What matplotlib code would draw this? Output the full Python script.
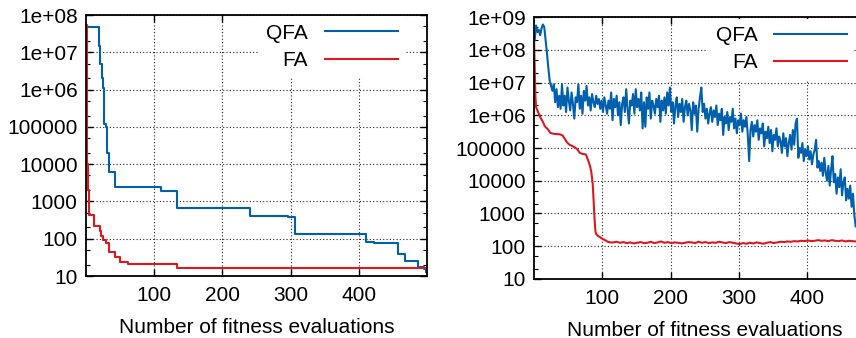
import numpy as np
import matplotlib
matplotlib.use("Agg")
import matplotlib.pyplot as plt
from matplotlib.ticker import FixedLocator, LogLocator, NullFormatter

plt.rcParams['font.family'] = ['Liberation Sans', 'DejaVu Sans']

# ---- left panel: best-so-far curves (step changes) ----
qfa_left_x = [0, 19, 21, 23, 25, 27, 29, 31, 33, 42, 110, 134, 240, 296, 306,
              411, 422, 457, 468, 487, 495, 499]
qfa_left_y = [4.7e7, 1.5e7, 5e6, 2e6, 1.1e6, 1.2e5, 1e5, 2e4, 6e3, 2.4e3, 1.9e3,
              660, 400, 380, 135, 80, 75, 40, 26, 17, 15, 13]

fa_left_x = [0, 1, 2, 3, 5, 11, 20, 22, 25, 29, 33, 42, 50, 62, 134, 499]
fa_left_y = [5.4e7, 2e5, 1e4, 2e3, 440, 215, 160, 115, 93, 76, 44, 32, 24, 21, 16, 16]

# ---- right panel: current fitness per evaluation (log10 values) ----
qfa_right_x = np.arange(1, 472, 2)
qfa_right_log = [
    8.30, 8.75, 8.55, 8.62, 8.45, 8.66, 8.78, 8.70, 8.30, 7.90,
    7.45, 7.05, 6.90, 6.75, 6.95, 6.40, 6.80, 6.25, 6.60, 6.20,
    6.95, 6.30, 6.60, 6.10, 6.85, 6.45, 6.15, 6.70, 6.35, 5.90,
    6.55, 6.40, 6.95, 6.20, 6.60, 6.05, 6.75, 6.45, 6.90, 6.30,
    6.55, 6.15, 6.65, 6.40, 6.25, 6.60, 6.35, 6.50, 6.20, 6.45,
    6.10, 6.55, 6.30, 6.05, 6.45, 6.20, 6.70, 5.85, 6.50, 6.25,
    6.60, 6.00, 6.40, 5.70, 6.35, 6.55, 6.10, 6.80, 6.20, 5.75,
    6.45, 6.30, 6.65, 6.05, 6.80, 6.25, 6.50, 6.15, 6.70, 5.60,
    6.40, 5.65, 6.55, 6.20, 6.70, 5.90, 6.45, 6.30, 6.05, 6.50,
    6.25, 6.60, 5.80, 6.45, 6.15, 6.55, 6.05, 6.70, 6.30, 6.85,
    6.10, 6.40, 5.75, 6.30, 6.55, 5.95, 6.35, 6.10, 6.50, 5.80,
    6.25, 6.45, 6.00, 6.35, 6.15, 5.55, 6.40, 6.05, 6.30, 5.50,
    6.20, 6.55, 6.85, 6.10, 6.35, 5.90, 6.20, 5.75, 6.05, 6.25,
    5.80, 6.15, 5.95, 6.30, 5.70, 6.05, 5.85, 6.20, 5.40, 5.95,
    5.75, 6.10, 5.55, 5.95, 5.80, 6.20, 5.60, 5.90, 5.45, 5.85,
    5.70, 6.05, 5.50, 5.85, 5.65, 5.95, 5.40, 4.60, 5.55, 5.80,
    5.35, 5.70, 5.50, 5.85, 5.25, 5.60, 5.45, 5.75, 5.05, 5.50,
    5.30, 5.65, 5.15, 5.55, 4.90, 5.40, 5.25, 5.60, 5.05, 5.35,
    5.20, 4.85, 5.45, 5.05, 5.30, 4.75, 5.15, 5.40, 4.95, 5.55,
    5.10, 5.75, 5.90, 4.70, 5.00, 4.85, 5.15, 4.60, 4.95, 4.75,
    5.05, 4.65, 4.90, 4.50, 4.80, 4.95, 5.25, 4.40, 4.60, 4.30,
    4.55, 4.15, 4.70, 4.25, 4.00, 4.45, 3.85, 4.35, 4.75, 3.95,
    4.20, 3.60, 4.10, 3.80, 4.35, 3.55, 3.95, 4.10, 3.40, 3.75,
    3.45, 3.85, 3.20, 3.60, 2.95, 2.60,
]

fa_right_x = [0, 1, 2, 3, 6, 9, 13, 16, 20, 24, 30, 38, 42, 45, 48, 52, 58, 63,
              67, 71, 76, 79, 82, 84, 86, 87, 88, 89, 90, 91, 93, 96, 100, 104,
              108, 112] + list(range(116, 472, 5))
fa_right_log = [
    8.40, 7.50, 6.60, 6.25, 6.10, 5.95, 5.80, 5.66, 5.58, 5.46, 5.43, 5.42,
    5.38, 5.28, 5.18, 5.10, 5.04, 4.97, 4.85, 4.82, 4.80, 4.64, 4.45, 4.25,
    3.90, 3.50, 3.10, 2.70, 2.45, 2.37, 2.32, 2.28, 2.22, 2.18, 2.13, 2.11,
    2.11, 2.13, 2.10, 2.12, 2.09, 2.11, 2.08, 2.10, 2.12, 2.09,
    2.10, 2.13, 2.09, 2.11, 2.14, 2.10, 2.12, 2.09, 2.11, 2.10,
    2.08, 2.10, 2.12, 2.11, 2.09, 2.13, 2.10, 2.12, 2.09, 2.11,
    2.10, 2.13, 2.11, 2.09, 2.12, 2.10, 2.08, 2.06, 2.09, 2.07,
    2.10, 2.08, 2.11, 2.09, 2.07, 2.10, 2.12, 2.09, 2.11, 2.13,
    2.12, 2.14, 2.13, 2.15, 2.14, 2.16, 2.15, 2.17, 2.15, 2.16,
    2.18, 2.16, 2.17, 2.15, 2.18, 2.16, 2.15, 2.17, 2.14, 2.16,
    2.15, 2.14,
]

x_ticks = [100, 200, 300, 400]
left_yticks = [10, 100, 1000, 10000, 100000, 1e6, 1e7, 1e8]
left_ylabels = ["10", "100", "1000", "10000", "100000", "1e+06", "1e+07", "1e+08"]
right_yticks = left_yticks + [1e9]
right_ylabels = left_ylabels + ["1e+09"]
xlabel = "Number of fitness evaluations"

blue = "#0060ad"
red = "#dd181f"
fs = 15

fig = plt.figure(figsize=(8.56, 3.38), dpi=100)
ax1 = fig.add_axes([86 / 856, 62 / 338, 341 / 856, 261 / 338])
ax2 = fig.add_axes([534 / 856, 59.3 / 338, 341.5 / 856, 261.4 / 338])


def style(ax, yticks, ylabels, ylim):
    ax.set_yscale("log")
    ax.set_xlim(0, 500)
    ax.set_ylim(*ylim)
    ax.xaxis.set_major_locator(FixedLocator(x_ticks))
    ax.set_yticks(yticks)
    ax.set_yticklabels(ylabels)
    ax.yaxis.set_minor_locator(LogLocator(base=10, subs=(2, 5), numticks=20))
    ax.yaxis.set_minor_formatter(NullFormatter())
    ax.tick_params(which="both", direction="in", top=True, right=True,
                   labelsize=fs, color="black")
    ax.tick_params(which="major", length=5, width=1.0)
    ax.tick_params(axis="x", pad=7.5)
    ax.tick_params(axis="y", pad=6)
    ax.tick_params(which="minor", length=3, width=0.8)
    ax.grid(True, which="major", color="#222222", linestyle=(0, (1, 2)), linewidth=0.8)
    for s in ax.spines.values():
        s.set_linewidth(1.3)
    ax.set_xlabel(xlabel, fontsize=fs, labelpad=9)


style(ax1, left_yticks, left_ylabels, (10, 1e8))
style(ax2, right_yticks, right_ylabels, (10, 1e9))

ax1.plot(qfa_left_x, qfa_left_y, drawstyle="steps-post", color=blue, lw=1.5, label="QFA")
ax1.plot(fa_left_x, fa_left_y, drawstyle="steps-post", color=red, lw=1.5, label="FA")

ax2.plot(qfa_right_x, 10 ** np.array(qfa_right_log), color=blue, lw=1.5, label="QFA")
ax2.plot(fa_right_x, 10 ** np.array(fa_right_log), color=red, lw=1.5, label="FA")

for ax, anchor_x in [(ax1, 0.935), (ax2, 0.938)]:
    leg = ax.legend(loc="upper right", bbox_to_anchor=(anchor_x, 0.995), markerfirst=False,
                    fontsize=fs, frameon=True, fancybox=False, borderaxespad=0,
                    borderpad=0.35, handlelength=3.5, handletextpad=0.8,
                    labelspacing=0.4)
    leg.get_frame().set_edgecolor("none")
    leg.get_frame().set_facecolor("white")
    leg.get_frame().set_alpha(1.0)

fig.savefig("out.png", dpi=100)
